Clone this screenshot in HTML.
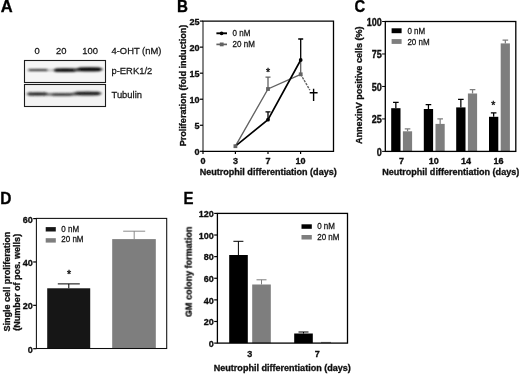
<!DOCTYPE html><html><head><meta charset="utf-8"><style>html,body{margin:0;padding:0;background:#fff}svg{display:block}text{font-family:"Liberation Sans",sans-serif;fill:#0c0c0c;stroke:#0c0c0c;stroke-width:0.3px}.b{font-weight:bold}.t{font-size:9.05px;font-weight:bold}.r{font-size:9.40px;fill:#151515;stroke:#151515;stroke-width:0.25px}.ax{font-size:9.05px;font-weight:bold}.P{font-size:17.4px;font-weight:bold;fill:#000;stroke:#000;stroke-width:0.35px}</style></head><body>
<svg width="520" height="374" viewBox="0 0 520 374">
<defs><filter id="bl" x="-20%" y="-200%" width="140%" height="500%"><feGaussianBlur stdDeviation="1.3 0.85"/></filter><filter id="soft"><feGaussianBlur stdDeviation="0.35"/></filter></defs>
<rect width="520" height="374" fill="#fff"/>
<g filter="url(#soft)">
<text class="P" transform="translate(0.7,12) scale(0.95,0.95)">A</text>
<text class="P" transform="translate(177.0,11.6) scale(0.87,1.0)">B</text>
<text class="P" transform="translate(354.6,12.3) scale(0.85,1.0)">C</text>
<text class="P" transform="translate(0.2,203.5) scale(0.89,1.0)">D</text>
<text class="P" transform="translate(183.4,203.8) scale(0.86,1.0)">E</text>
<text class="r" transform="translate(37.2,53.5) scale(1,1.03)" text-anchor="middle">0</text>
<text class="r" transform="translate(61.2,53.5) scale(1,1.03)" text-anchor="middle">20</text>
<text class="r" transform="translate(90.2,53.5) scale(1,1.03)" text-anchor="middle">100</text>
<text class="r" transform="translate(111.5,53.5) scale(1,1.03)">4-OHT (nM)</text>
<text class="r" transform="translate(111.5,74.0) scale(1,1.03)">p-ERK1/2</text>
<text class="r" transform="translate(111.5,98.4) scale(1,1.03)">Tubulin</text>
<rect x="24.5" y="60.5" width="81" height="22" fill="#f5f5f5" stroke="#1a1a1a" stroke-width="1.1"/>
<rect x="24.5" y="84.5" width="81" height="22" fill="#f3f3f3" stroke="#1a1a1a" stroke-width="1.1"/>
<g filter="url(#bl)">
<rect x="28.5" y="69.3" width="19.0" height="1.6" rx="0.8" fill="#111" opacity="1"/>
<ellipse cx="38" cy="70.1" rx="11" ry="1.0" fill="#1e1e1e" opacity="0.6"/>
<rect x="54.7" y="68.60000000000001" width="20.6" height="3.2" rx="1.6" fill="#000" opacity="1"/>
<ellipse cx="65" cy="70.2" rx="12.5" ry="1.6" fill="#000" opacity="0.8"/>
<rect x="78.0" y="67.39999999999999" width="23.0" height="3.8" rx="1.9" fill="#000" opacity="1"/>
<ellipse cx="89.5" cy="69.3" rx="13.8" ry="1.9" fill="#000" opacity="0.8"/>
<ellipse cx="77" cy="69.9" rx="4" ry="1.4" fill="#111" opacity="0.8"/>
<ellipse cx="50" cy="70.3" rx="4" ry="0.8" fill="#555" opacity="0.5"/>
<rect x="27.7" y="92.6" width="19.6" height="2.8" rx="1.4" fill="#1c1c1c" opacity="0.95"/>
<ellipse cx="37.5" cy="94.0" rx="11.8" ry="1.4" fill="#1c1c1c" opacity="0.7"/>
<rect x="52" y="93.35" width="20" height="2.5" rx="1.25" fill="#2a2a2a" opacity="0.95"/>
<ellipse cx="62" cy="94.6" rx="12" ry="1.3" fill="#2a2a2a" opacity="0.7"/>
<rect x="75.2" y="91.8" width="24.6" height="3.4" rx="1.7" fill="#141414" opacity="1"/>
<ellipse cx="87.5" cy="93.5" rx="14.5" ry="1.7" fill="#141414" opacity="0.8"/>
<ellipse cx="50" cy="94.4" rx="4" ry="1.3" fill="#444" opacity="0.7"/>
<ellipse cx="74" cy="94.1" rx="4" ry="1.5" fill="#333" opacity="0.8"/>
</g>
<line x1="203" y1="21.2" x2="203" y2="151.3" stroke="#707070" stroke-width="1.7"/>
<path d="M202.4 21.2H333.5V151.3H202.4" fill="none" stroke="#000" stroke-width="1.3"/>
<line x1="199.8" y1="151.3" x2="203" y2="151.3" stroke="#000" stroke-width="1.2"/>
<text class="t" transform="translate(199.50,155.30) scale(1,1.06)" text-anchor="end">0</text>
<line x1="199.8" y1="125.26000000000002" x2="203" y2="125.26000000000002" stroke="#000" stroke-width="1.2"/>
<text class="t" transform="translate(199.50,129.26) scale(1,1.06)" text-anchor="end">5</text>
<line x1="199.8" y1="99.22000000000001" x2="203" y2="99.22000000000001" stroke="#000" stroke-width="1.2"/>
<text class="t" transform="translate(199.50,103.22) scale(1,1.06)" text-anchor="end">10</text>
<line x1="199.8" y1="73.18" x2="203" y2="73.18" stroke="#000" stroke-width="1.2"/>
<text class="t" transform="translate(199.50,77.18) scale(1,1.06)" text-anchor="end">15</text>
<line x1="199.8" y1="47.140000000000015" x2="203" y2="47.140000000000015" stroke="#000" stroke-width="1.2"/>
<text class="t" transform="translate(199.50,51.14) scale(1,1.06)" text-anchor="end">20</text>
<line x1="199.8" y1="21.099999999999994" x2="203" y2="21.099999999999994" stroke="#000" stroke-width="1.2"/>
<text class="t" transform="translate(199.50,25.10) scale(1,1.06)" text-anchor="end">25</text>
<line x1="203" y1="151.3" x2="203" y2="153.9" stroke="#000" stroke-width="1.2"/>
<text class="t" transform="translate(203,163.70000000000002) scale(1,1.06)" text-anchor="middle">0</text>
<line x1="235.4" y1="151.3" x2="235.4" y2="153.9" stroke="#000" stroke-width="1.2"/>
<text class="t" transform="translate(235.4,163.70000000000002) scale(1,1.06)" text-anchor="middle">3</text>
<line x1="268" y1="151.3" x2="268" y2="153.9" stroke="#000" stroke-width="1.2"/>
<text class="t" transform="translate(268,163.70000000000002) scale(1,1.06)" text-anchor="middle">7</text>
<line x1="300.6" y1="151.3" x2="300.6" y2="153.9" stroke="#000" stroke-width="1.2"/>
<text class="t" transform="translate(300.6,163.70000000000002) scale(1,1.06)" text-anchor="middle">10</text>
<text class="ax" transform="translate(268.2,175.3) scale(1,1.04)" text-anchor="middle">Neutrophil differentiation (days)</text>
<text class="ax" transform="translate(186.0,85.5) rotate(-90) scale(1,1.04)" text-anchor="middle">Proliferation (fold induction)</text>
<path d="M268 119.53120000000001V111.8M265.5 111.8H270.5" stroke="#060606" stroke-width="1.3" fill="none"/>
<path d="M300.7 60V39M298.2 39H303.2" stroke="#060606" stroke-width="1.3" fill="none"/>
<path d="M268 89V77.1M265.5 77.1H270.5" stroke="#626262" stroke-width="1.3" fill="none"/>
<line x1="300.7" y1="74.3" x2="300.7" y2="60" stroke="#626262" stroke-width="1.3"/>
<polyline points="235.4,146.2 268,89 300.7,74.3" fill="none" stroke="#626262" stroke-width="1.35"/>
<polyline points="235.4,146.2 268,119.7 300.7,60" fill="none" stroke="#060606" stroke-width="1.65"/>
<line x1="300.7" y1="74.3" x2="309.9" y2="90.2" stroke="#626262" stroke-width="1.4" stroke-dasharray="2.4 1.0"/>
<circle cx="268" cy="119.7" r="1.9" fill="#060606"/>
<circle cx="300.7" cy="60" r="1.9" fill="#060606"/>
<rect x="233.5" y="144.29999999999998" width="3.8" height="3.8" fill="#626262"/>
<rect x="266.1" y="87.1" width="3.8" height="3.8" fill="#626262"/>
<rect x="298.8" y="72.39999999999999" width="3.8" height="3.8" fill="#626262"/>
<path d="M313.6 88.7V101.1M309.7 92.7H317.6" stroke="#060606" stroke-width="1.4" fill="none"/>
<text class="r" transform="translate(268,76.2) scale(1,1.03)" text-anchor="middle" style="font-size:10.5px;stroke-width:0.4px">*</text>
<line x1="216.4" y1="33.3" x2="227" y2="33.3" stroke="#060606" stroke-width="1.9"/><circle cx="221.6" cy="33.3" r="1.9" fill="#060606"/>
<line x1="216.4" y1="44.4" x2="227" y2="44.4" stroke="#626262" stroke-width="1.7"/><rect x="219.8" y="42.5" width="3.8" height="3.8" fill="#626262"/>
<text class="r" transform="translate(232.6,36.2) scale(1,1.03)" style="font-size:8.0px">0 nM</text>
<text class="r" transform="translate(232.6,47.0) scale(1,1.03)" style="font-size:8.0px">20 nM</text>
<path d="M395.84999999999997 108.2V102.4M393.04999999999995 102.4H398.65" stroke="#060606" stroke-width="1.25" fill="none"/>
<path d="M407.54999999999995 131.3V128.8M404.74999999999994 128.8H410.34999999999997" stroke="#7e7e7e" stroke-width="1.25" fill="none"/>
<rect x="391.2" y="108.20" width="9.30" height="43.20" fill="#060606"/>
<rect x="402.9" y="131.30" width="9.20" height="20.10" fill="#7e7e7e"/>
<path d="M428.45 109.0V104.5M425.65 104.5H431.25" stroke="#060606" stroke-width="1.25" fill="none"/>
<path d="M440.15 123.9V118.9M437.34999999999997 118.9H442.95" stroke="#7e7e7e" stroke-width="1.25" fill="none"/>
<rect x="423.8" y="109.00" width="9.30" height="42.40" fill="#060606"/>
<rect x="435.5" y="123.90" width="9.20" height="27.50" fill="#7e7e7e"/>
<path d="M460.84999999999997 107.4V99.4M458.04999999999995 99.4H463.65" stroke="#060606" stroke-width="1.25" fill="none"/>
<path d="M472.54999999999995 93.5V89.5M469.74999999999994 89.5H475.34999999999997" stroke="#7e7e7e" stroke-width="1.25" fill="none"/>
<rect x="456.2" y="107.40" width="9.30" height="44.00" fill="#060606"/>
<rect x="467.9" y="93.50" width="9.20" height="57.90" fill="#7e7e7e"/>
<path d="M493.65 116.8V112.8M490.84999999999997 112.8H496.45" stroke="#060606" stroke-width="1.25" fill="none"/>
<path d="M505.34999999999997 43.4V40.1M502.54999999999995 40.1H508.15" stroke="#7e7e7e" stroke-width="1.25" fill="none"/>
<rect x="489.0" y="116.80" width="9.30" height="34.60" fill="#060606"/>
<rect x="500.7" y="43.40" width="9.20" height="108.00" fill="#7e7e7e"/>
<rect x="385.3" y="21.5" width="130.50" height="129.90" fill="none" stroke="#000" stroke-width="1.3"/>
<line x1="382.1" y1="151.4" x2="385.3" y2="151.4" stroke="#000" stroke-width="1.0"/>
<text class="t" transform="translate(381.80,155.80) scale(1,1.14)" text-anchor="end">0</text>
<line x1="382.1" y1="118.92500000000001" x2="385.3" y2="118.92500000000001" stroke="#000" stroke-width="1.0"/>
<text class="t" transform="translate(381.80,123.33) scale(1,1.14)" text-anchor="end">25</text>
<line x1="382.1" y1="86.45" x2="385.3" y2="86.45" stroke="#000" stroke-width="1.0"/>
<text class="t" transform="translate(381.80,90.85) scale(1,1.14)" text-anchor="end">50</text>
<line x1="382.1" y1="53.97500000000001" x2="385.3" y2="53.97500000000001" stroke="#000" stroke-width="1.0"/>
<text class="t" transform="translate(381.80,58.38) scale(1,1.14)" text-anchor="end">75</text>
<line x1="382.1" y1="21.5" x2="385.3" y2="21.5" stroke="#000" stroke-width="1.0"/>
<text class="t" transform="translate(381.80,25.90) scale(1,1.14)" text-anchor="end">100</text>
<line x1="401.6" y1="151.4" x2="401.6" y2="151.4" stroke="#000" stroke-width="1.2"/>
<text class="t" transform="translate(401.6,163.70000000000002) scale(1,1.06)" text-anchor="middle">7</text>
<line x1="433.8" y1="151.4" x2="433.8" y2="151.4" stroke="#000" stroke-width="1.2"/>
<text class="t" transform="translate(433.8,163.70000000000002) scale(1,1.06)" text-anchor="middle">10</text>
<line x1="466" y1="151.4" x2="466" y2="151.4" stroke="#000" stroke-width="1.2"/>
<text class="t" transform="translate(466,163.70000000000002) scale(1,1.06)" text-anchor="middle">14</text>
<line x1="498.4" y1="151.4" x2="498.4" y2="151.4" stroke="#000" stroke-width="1.2"/>
<text class="t" transform="translate(498.4,163.70000000000002) scale(1,1.06)" text-anchor="middle">16</text>
<text class="ax" transform="translate(450.7,175.3) scale(1,1.04)" text-anchor="middle">Neutrophil differentiation (days)</text>
<text class="ax" transform="translate(362.2,85.2) rotate(-90) scale(1,1.04)" text-anchor="middle">AnnexinV positive cells (%)</text>
<text class="r" transform="translate(493.4,109.4) scale(1,1.03)" text-anchor="middle" style="font-size:10.5px;stroke-width:0.4px">*</text>
<rect x="391.6" y="28.30" width="10.00" height="4.90" fill="#060606"/>
<rect x="391.6" y="39.10" width="10.00" height="4.80" fill="#7e7e7e"/>
<text class="r" transform="translate(407.4,33.7) scale(1,1.03)" style="font-size:8.0px">0 nM</text>
<text class="r" transform="translate(407.4,44.6) scale(1,1.03)" style="font-size:8.0px">20 nM</text>
<path d="M68.8 288.3V283.9M57.8 283.9H79.8" stroke="#000" stroke-width="1.0" fill="none"/>
<path d="M134.2 239.1V231.2M123.19999999999999 231.2H145.2" stroke="#7e7e7e" stroke-width="0.9" fill="none"/>
<rect x="47.2" y="288.30" width="43.00" height="60.20" fill="#161616"/>
<rect x="112.2" y="239.10" width="43.60" height="109.40" fill="#7e7e7e"/>
<rect x="36.4" y="218.4" width="130.30" height="130.10" fill="none" stroke="#111" stroke-width="1.05"/>
<line x1="33.199999999999996" y1="348.7" x2="36.4" y2="348.7" stroke="#000" stroke-width="1.2"/>
<text class="t" transform="translate(32.90,352.60) scale(1,1.06)" text-anchor="end">0</text>
<line x1="33.199999999999996" y1="305.334" x2="36.4" y2="305.334" stroke="#000" stroke-width="1.2"/>
<text class="t" transform="translate(32.90,309.23) scale(1,1.06)" text-anchor="end">20</text>
<line x1="33.199999999999996" y1="261.968" x2="36.4" y2="261.968" stroke="#000" stroke-width="1.2"/>
<text class="t" transform="translate(32.90,265.87) scale(1,1.06)" text-anchor="end">40</text>
<line x1="33.199999999999996" y1="218.602" x2="36.4" y2="218.602" stroke="#000" stroke-width="1.2"/>
<text class="t" transform="translate(32.90,222.50) scale(1,1.06)" text-anchor="end">60</text>
<text class="ax" transform="translate(9.9,281.6) rotate(-90) scale(1,1.04)" text-anchor="middle">Single cell proliferation</text>
<text class="ax" transform="translate(19.7,282.3) rotate(-90) scale(1,1.04)" text-anchor="middle">(Number of pos. wells)</text>
<text class="r" transform="translate(69.1,278.4) scale(1,1.03)" text-anchor="middle" style="font-size:10.5px;stroke-width:0.4px">*</text>
<rect x="45.7" y="227.10" width="10.10" height="4.40" fill="#161616"/>
<rect x="45.7" y="238.20" width="10.10" height="4.40" fill="#7e7e7e"/>
<text class="r" transform="translate(61.3,231.6) scale(1,1.03)" style="font-size:8.0px">0 nM</text>
<text class="r" transform="translate(61.3,242.4) scale(1,1.03)" style="font-size:8.0px">20 nM</text>
<path d="M238.4 255.0V241.3M233.4 241.3H243.4" stroke="#060606" stroke-width="1.0" fill="none"/>
<path d="M261.5 284.5V279.8M256.5 279.8H266.5" stroke="#7e7e7e" stroke-width="1.0" fill="none"/>
<path d="M303.5 333.5V332M298.5 332H308.5" stroke="#060606" stroke-width="1.0" fill="none"/>
<path d="M326 343V342.4M321.0 342.4H331.0" stroke="#7e7e7e" stroke-width="1.0" fill="none"/>
<rect x="229.2" y="255.00" width="18.60" height="88.10" fill="#060606"/>
<rect x="252.2" y="284.50" width="18.60" height="58.60" fill="#7e7e7e"/>
<rect x="294.2" y="333.50" width="18.60" height="9.60" fill="#060606"/>
<rect x="217.4" y="213.4" width="130.10" height="129.70" fill="none" stroke="#000" stroke-width="1.3"/>
<line x1="214.20000000000002" y1="343.1" x2="217.4" y2="343.1" stroke="#000" stroke-width="1.2"/>
<text class="t" transform="translate(213.90,346.80) scale(1,1.06)" text-anchor="end">0</text>
<line x1="214.20000000000002" y1="321.48400000000004" x2="217.4" y2="321.48400000000004" stroke="#000" stroke-width="1.2"/>
<text class="t" transform="translate(213.90,325.18) scale(1,1.06)" text-anchor="end">20</text>
<line x1="214.20000000000002" y1="299.86800000000005" x2="217.4" y2="299.86800000000005" stroke="#000" stroke-width="1.2"/>
<text class="t" transform="translate(213.90,303.57) scale(1,1.06)" text-anchor="end">40</text>
<line x1="214.20000000000002" y1="278.252" x2="217.4" y2="278.252" stroke="#000" stroke-width="1.2"/>
<text class="t" transform="translate(213.90,281.95) scale(1,1.06)" text-anchor="end">60</text>
<line x1="214.20000000000002" y1="256.636" x2="217.4" y2="256.636" stroke="#000" stroke-width="1.2"/>
<text class="t" transform="translate(213.90,260.34) scale(1,1.06)" text-anchor="end">80</text>
<line x1="214.20000000000002" y1="235.02000000000004" x2="217.4" y2="235.02000000000004" stroke="#000" stroke-width="1.2"/>
<text class="t" transform="translate(213.90,238.72) scale(1,1.06)" text-anchor="end">100</text>
<line x1="214.20000000000002" y1="213.40400000000002" x2="217.4" y2="213.40400000000002" stroke="#000" stroke-width="1.2"/>
<text class="t" transform="translate(213.90,217.10) scale(1,1.06)" text-anchor="end">120</text>
<text class="t" transform="translate(249.8,357.2) scale(1,1.06)" text-anchor="middle">3</text>
<text class="t" transform="translate(317.2,357.2) scale(1,1.06)" text-anchor="middle">7</text>
<text class="ax" transform="translate(282.3,371) scale(1,1.04)" text-anchor="middle">Neutrophil differentiation (days)</text>
<text class="ax" transform="translate(192.0,271.8) rotate(-90) scale(1,1.04)" text-anchor="middle">GM colony formation</text>
<rect x="301.5" y="224.30" width="10.30" height="4.50" fill="#060606"/>
<rect x="301.5" y="235.00" width="10.30" height="4.50" fill="#7e7e7e"/>
<text class="r" transform="translate(317.2,229.1) scale(1,1.03)" style="font-size:8.0px">0 nM</text>
<text class="r" transform="translate(317.2,240.0) scale(1,1.03)" style="font-size:8.0px">20 nM</text>
</g></svg></body></html>
